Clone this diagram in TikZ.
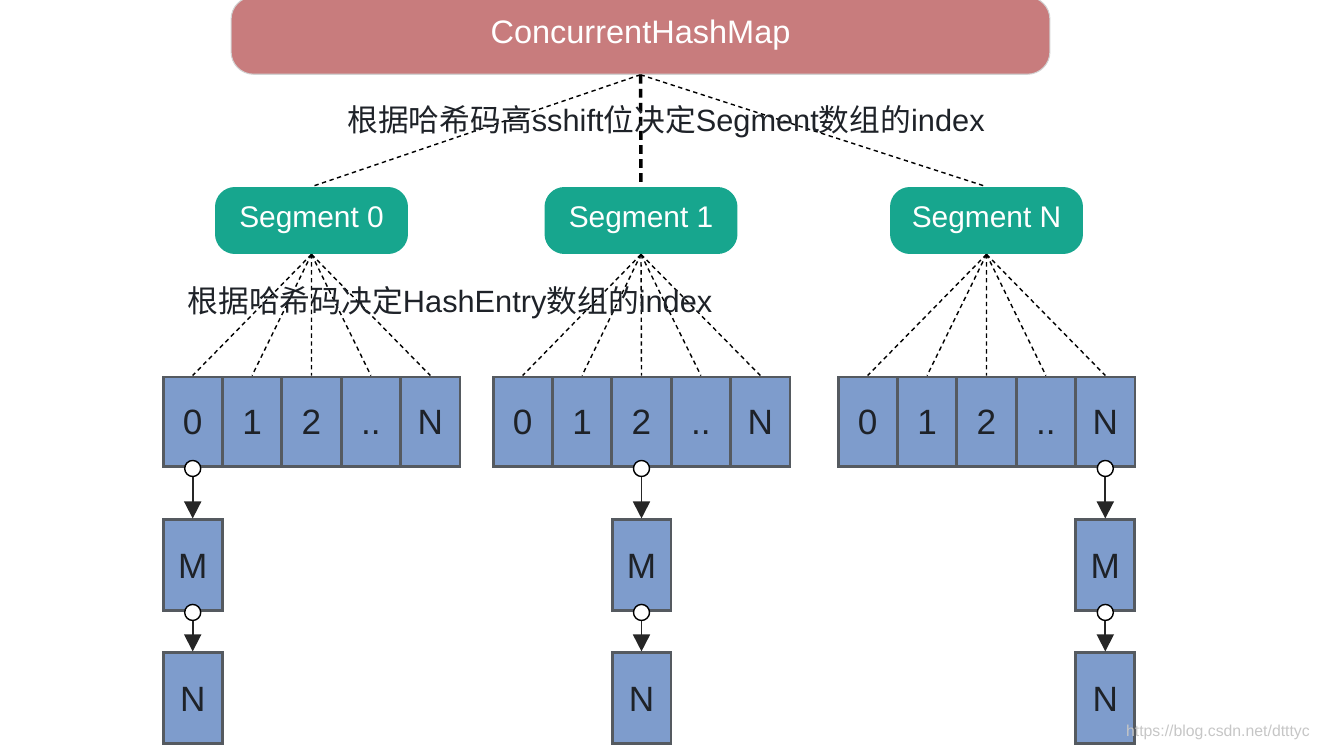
\documentclass[tikz,border=0pt]{standalone}
\usepackage{fontspec}
\setmainfont{Liberation Sans}
\newfontfamily\cjk{Noto Sans CJK SC}
\usetikzlibrary{positioning,arrows.meta}
\definecolor{mapred}{HTML}{C87C7D}
\definecolor{segteal}{HTML}{17A68E}
\definecolor{cellblue}{HTML}{7E9CCC}
\definecolor{cellborder}{HTML}{555A60}
\definecolor{inktext}{HTML}{1E2228}
\tikzset{
  map box/.style={rectangle, rounded corners=0.45cm, draw=gray!35, line width=0.6pt, fill=mapred, text=white, minimum width=16.38cm, minimum height=1.55cm, font=\fontsize{18.5}{20}\selectfont},
  seg box/.style={rectangle, rounded corners=0.4cm, fill=segteal, text=white, minimum width=3.86cm, minimum height=1.34cm, font=\fontsize{17}{20}\selectfont},
  cell box/.style={rectangle, draw=cellborder, line width=1.7pt, fill=cellblue, text=inktext, minimum width=1.188cm, minimum height=1.8cm, inner sep=0pt, text height=14.5pt, text depth=0pt, font=\fontsize{20}{22}\selectfont},
  entry box/.style={cell box, minimum width=1.18cm, minimum height=1.82cm},
  hash link/.style={draw, dash pattern=on 2.5pt off 2pt, line width=0.8pt},
  next knob/.style={circle, draw=black, fill=white, line width=0.8pt, minimum size=0.32cm, inner sep=0pt},
  next link/.style={-{Triangle[length=0.34cm,width=0.34cm]}, line width=1pt, draw=black!85}
}
\begin{document}
\begin{tikzpicture}[x=0.02cm, y=-0.02cm]
    \useasboundingbox (0,0) rectangle (1323,749);
    % map and segments
    \node [map box] (chm) at (640.5,35.5) {ConcurrentHashMap};
    \node [seg box] (seg0) at (311.5,220.5) {Segment 0};
    \node [seg box] (seg1) at (641,220.5) {Segment 1};
    \node [seg box] (segN) at (986.5,220.5) {Segment N};
    \draw [hash link] (chm.south) -- (seg0.north);
    \draw [draw, dash pattern=on 5pt off 3pt, line width=2pt] (chm.south) -- (seg1.north);
    \draw [hash link] (chm.south) -- (segN.north);
    \node [text=inktext, font=\fontsize{17.5}{20}\selectfont] (seglabel) at (666,122)
        {{\cjk 根据哈希码高}sshift{\cjk 位决定}Segment{\cjk 数组的}index};

    % HashEntry tables
    \foreach \s/\x in {0/163, 1/493, N/838} {
      \foreach \v [count=\i from 0] in {0,1,2,{..},N} {
        \node [cell box] (tab\s-\i) at ({\x+29.7+59.4*\i},422) {\v};
        \draw [hash link] (seg\s.south) -- (tab\s-\i.north);
      }
    }
    \node [text=inktext, font=\fontsize{17.5}{20}\selectfont] (tablabel) at (450,303)
        {{\cjk 根据哈希码决定}HashEntry{\cjk 数组的}index};

    % linked entries
    \foreach \s/\c in {0/0, 1/2, N/4} {
      \node [entry box, below=1cm of tab\s-\c] (m\s) {M};
      \node [entry box, below=0.78cm of m\s] (n\s) {N};
      \node [next knob] (ka\s) at (tab\s-\c.south) {};
      \node [next knob] (kb\s) at (m\s.south) {};
      \draw [next link] (ka\s.south) -- (m\s.north);
      \draw [next link] (kb\s.south) -- (n\s.north);
    }

    \node [text=gray!45, font=\fontsize{9}{11}\selectfont, anchor=east] (mark) at (1316,732) {https://blog.csdn.net/dtttyc};
\end{tikzpicture}
\end{document}
